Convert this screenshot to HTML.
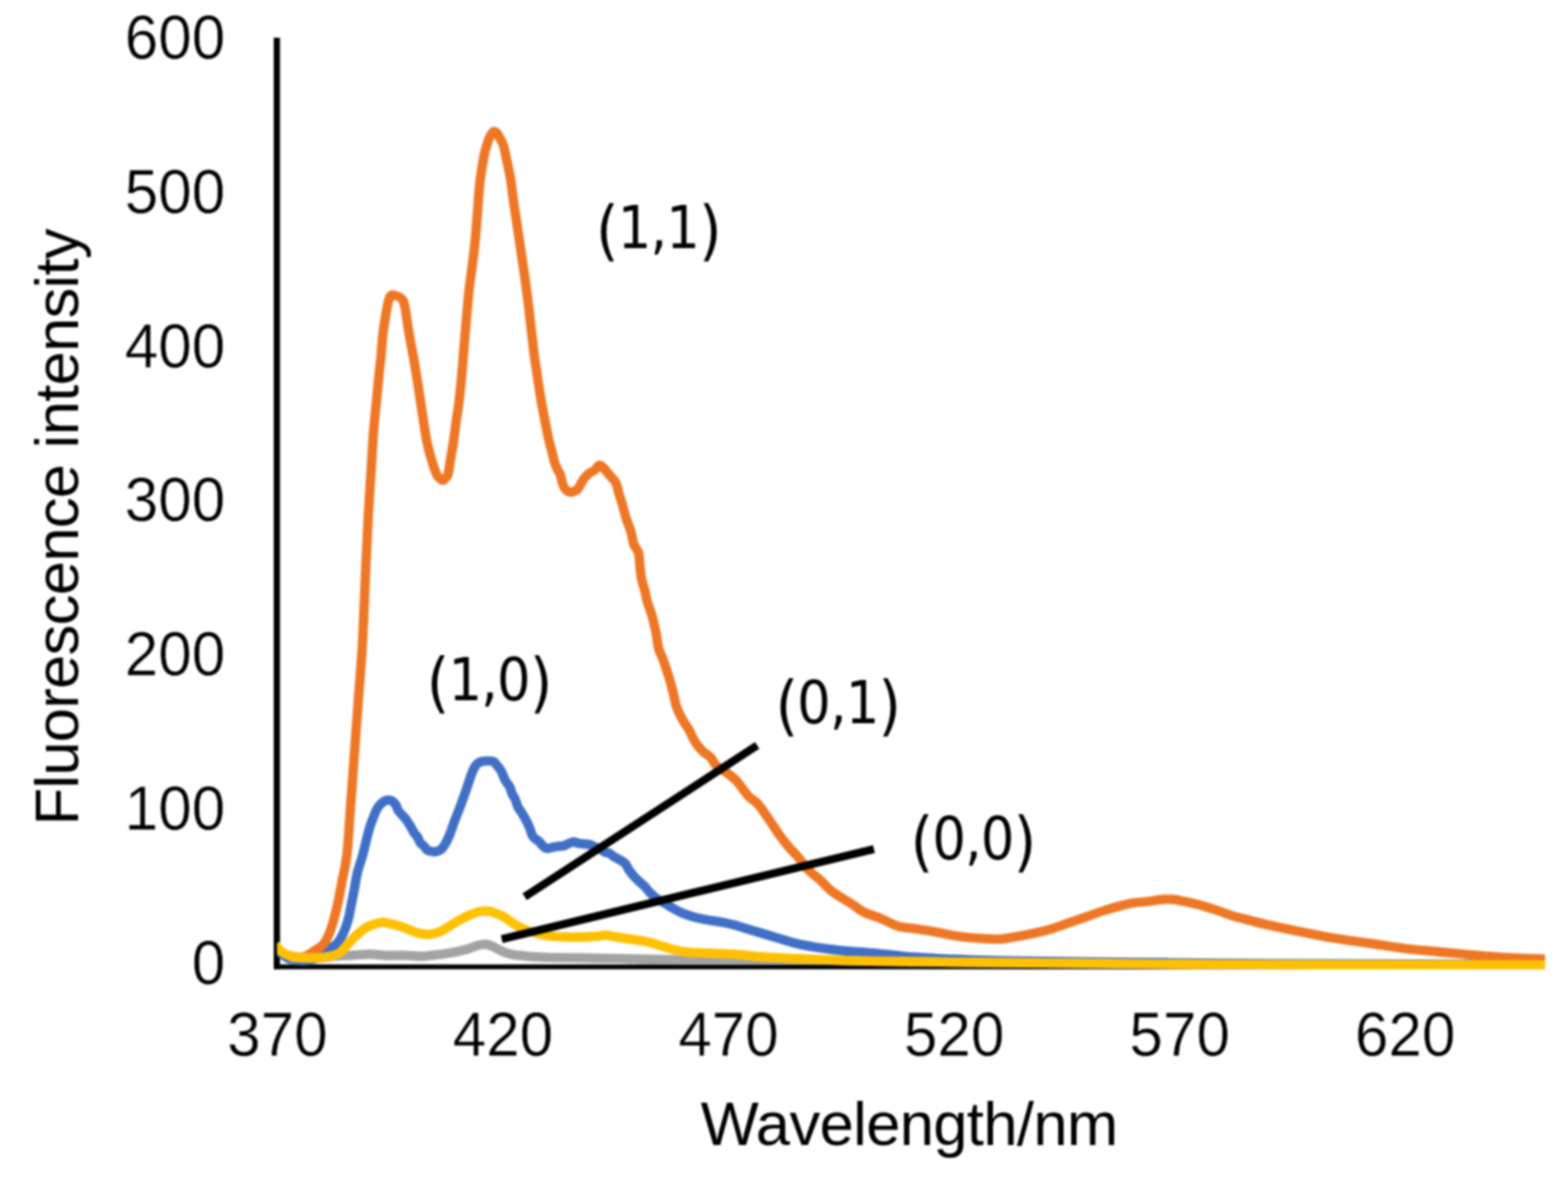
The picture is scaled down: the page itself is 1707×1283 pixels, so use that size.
<!DOCTYPE html>
<html lang="en">
<head>
<meta charset="utf-8">
<title>Fluorescence intensity vs Wavelength</title>
<style>
html,body{margin:0;padding:0;background:#fff;}
body{width:1707px;height:1283px;overflow:hidden;}
svg{display:block;filter:blur(1.15px);}
.ax{font-family:"Liberation Sans",Arial,sans-serif;font-size:65.6px;fill:#000;}
.tk{stroke:#fff;stroke-width:0.5px;stroke-linejoin:round;}
.an{font-family:"DejaVu Sans Condensed","DejaVu Sans","Liberation Sans",sans-serif;fill:#000;}
.c{fill:none;stroke-linejoin:round;stroke-linecap:butt;}
</style>
</head>
<body>
<svg width="1707" height="1283" viewBox="0 0 1707 1283" role="img" aria-label="Fluorescence spectra chart">
<rect width="1707" height="1283" fill="#fff"/>
<g stroke="#000" fill="none" stroke-linecap="butt">
<line x1="301.4" y1="41" x2="301.4" y2="1054.7" stroke-width="6.8"/>
<line x1="298" y1="1052.1" x2="1682" y2="1052.1" stroke-width="5.2"/>
</g>
<clipPath id="plot"><rect x="301.6" y="0" width="1380.6" height="1283"/></clipPath>
<g class="c" stroke-width="10.2" clip-path="url(#plot)">
<path stroke="#4070C6" d="M299.5,1029.0C299.9,1029.6 301.1,1031.3 302.0,1032.5C302.9,1033.7 303.5,1034.8 304.7,1036.0C305.9,1037.2 307.4,1038.8 309.0,1040.0C310.6,1041.2 312.2,1042.4 314.0,1043.2C315.8,1044.0 317.7,1044.6 320.0,1045.0C322.3,1045.4 325.2,1045.4 328.0,1045.4C330.8,1045.4 334.3,1045.4 337.0,1045.0C339.7,1044.6 341.8,1043.8 344.0,1043.0C346.2,1042.2 347.3,1041.8 350.0,1040.0C352.7,1038.2 357.1,1034.2 360.0,1031.9C362.9,1029.6 365.3,1028.7 367.5,1026.2C369.7,1023.7 371.5,1020.0 373.1,1016.9C374.7,1013.8 375.8,1010.6 376.9,1007.5C378.0,1004.4 378.8,1002.0 379.7,998.1C380.6,994.2 381.6,988.7 382.5,984.0C383.4,979.3 384.2,975.7 385.3,970.0C386.4,964.3 387.4,956.7 389.0,950.0C390.6,943.3 392.9,937.8 395.0,930.0C397.1,922.2 399.7,910.1 401.6,903.3C403.5,896.5 405.1,893.2 406.6,889.2C408.1,885.2 409.2,882.2 410.8,879.6C412.4,877.0 414.1,874.9 416.0,873.4C417.9,871.9 420.2,870.9 422.0,870.6C423.8,870.3 425.5,870.8 427.0,871.8C428.5,872.8 430.1,874.6 431.2,876.4C432.3,878.2 432.3,880.3 433.8,882.5C435.3,884.7 438.6,887.5 440.3,889.5C442.0,891.5 442.8,892.9 444.0,894.6C445.2,896.3 446.1,897.8 447.3,899.8C448.5,901.8 449.8,904.8 451.0,906.6C452.2,908.4 453.2,908.9 454.4,910.8C455.6,912.7 456.8,916.2 458.0,917.8C459.2,919.4 460.2,919.3 461.4,920.5C462.6,921.7 463.8,924.0 465.0,925.0C466.2,926.0 467.1,925.9 468.4,926.2C469.6,926.5 471.1,927.0 472.5,927.0C473.9,927.0 475.5,926.6 477.0,926.0C478.5,925.4 479.8,925.1 481.3,923.4C482.8,921.7 484.6,918.7 486.2,915.7C487.8,912.7 489.2,909.0 490.6,905.5C492.0,902.0 493.2,897.8 494.4,894.6C495.6,891.4 496.3,889.8 497.6,886.5C498.9,883.2 500.6,878.9 502.0,875.0C503.4,871.1 504.9,867.0 506.2,863.3C507.5,859.6 508.5,856.5 509.7,853.0C510.9,849.5 512.2,845.3 513.4,842.2C514.6,839.1 515.7,836.4 517.0,834.4C518.3,832.4 519.7,831.0 521.0,830.0C522.3,829.0 523.3,828.8 525.0,828.5C526.7,828.2 529.0,828.0 531.0,828.0C533.0,828.0 535.4,827.9 537.0,828.6C538.6,829.4 539.3,830.7 540.8,832.5C542.3,834.3 544.3,836.6 545.8,839.4C547.3,842.2 548.5,846.4 550.0,849.2C551.5,852.0 553.6,853.7 554.9,856.2C556.1,858.7 556.6,861.9 557.5,864.0C558.4,866.1 559.4,866.6 560.5,869.0C561.6,871.4 562.9,876.2 564.0,878.5C565.1,880.8 565.8,881.2 567.0,883.0C568.2,884.8 569.5,886.8 571.0,889.5C572.5,892.2 574.6,896.1 576.0,899.4C577.4,902.7 578.3,906.9 579.5,909.2C580.7,911.5 581.7,911.8 583.0,913.0C584.3,914.2 586.0,915.0 587.3,916.2C588.6,917.5 589.7,919.3 591.0,920.5C592.3,921.7 593.5,923.0 595.0,923.3C596.5,923.6 598.1,922.9 600.0,922.5C601.9,922.1 604.0,921.5 606.2,921.2C608.4,920.9 611.3,921.0 613.3,920.5C615.3,920.0 616.2,919.2 618.0,918.5C619.8,917.8 622.0,916.4 623.8,916.2C625.6,916.0 627.2,917.1 629.0,917.5C630.8,917.9 632.3,918.0 634.4,918.3C636.5,918.5 639.1,918.4 641.4,919.0C643.7,919.6 646.3,921.0 648.4,921.9C650.5,922.8 652.2,923.6 654.0,924.5C655.8,925.4 657.4,926.8 659.0,927.5C660.6,928.2 661.9,927.8 663.4,928.5C664.9,929.2 666.4,931.0 668.0,932.0C669.6,933.0 671.3,933.9 672.8,934.7C674.3,935.5 675.6,936.1 677.0,937.0C678.4,937.9 680.0,938.9 681.2,940.3C682.4,941.7 683.0,943.9 684.0,945.5C685.0,947.1 685.5,947.9 686.9,949.7C688.3,951.5 690.2,953.9 692.5,956.2C694.8,958.5 698.4,961.2 700.9,963.7C703.4,966.2 705.1,968.9 707.5,971.2C709.9,973.6 712.2,975.8 715.0,977.8C717.8,979.8 721.3,981.5 724.4,983.4C727.5,985.3 730.6,987.3 733.7,989.0C736.8,990.7 739.2,992.1 743.1,993.7C747.0,995.3 752.5,997.1 757.2,998.4C761.9,999.6 766.5,1000.4 771.2,1001.2C775.9,1002.1 780.6,1002.6 785.3,1003.5C790.0,1004.4 795.4,1005.5 799.3,1006.5C803.2,1007.5 804.0,1008.0 808.7,1009.4C813.4,1010.8 821.2,1013.1 827.5,1015.0C833.8,1016.9 840.0,1018.7 846.2,1020.6C852.5,1022.5 858.8,1024.6 865.0,1026.2C871.2,1027.8 877.5,1028.9 883.7,1030.0C890.0,1031.1 896.2,1032.0 902.5,1032.8C908.8,1033.6 913.4,1034.2 921.2,1034.9C929.0,1035.6 940.3,1036.2 949.3,1037.0C958.3,1037.8 967.2,1038.8 975.0,1039.6C982.8,1040.4 983.2,1040.8 996.0,1041.6C1008.8,1042.4 1034.7,1043.6 1052.0,1044.3C1069.3,1045.0 1068.7,1045.1 1100.0,1045.6C1131.3,1046.1 1193.3,1046.8 1240.0,1047.3C1286.7,1047.8 1306.3,1048.2 1380.0,1048.6C1453.7,1049.0 1631.7,1049.6 1682.0,1049.8"/>
<path stroke="#EE7725" d="M314.0,1039.6C315.0,1039.9 317.7,1040.9 320.0,1041.2C322.3,1041.5 325.5,1041.9 328.0,1041.6C330.5,1041.3 332.6,1040.8 335.0,1039.6C337.4,1038.4 340.2,1036.0 342.2,1034.7C344.2,1033.4 345.4,1032.9 347.0,1031.8C348.6,1030.7 350.2,1029.6 351.5,1028.1C352.8,1026.6 353.9,1024.9 355.0,1023.0C356.1,1021.1 357.2,1019.1 358.1,1016.9C359.0,1014.7 359.8,1012.4 360.6,1010.0C361.4,1007.6 361.8,1006.3 362.8,1002.8C363.8,999.2 365.4,993.4 366.5,988.7C367.6,984.0 368.4,979.9 369.4,974.7C370.4,969.6 371.2,965.2 372.6,957.8C374.0,950.3 376.3,941.7 377.7,930.0C379.1,918.3 379.8,902.5 380.9,887.5C382.0,872.5 383.3,855.6 384.4,840.0C385.5,824.4 386.6,808.7 387.7,793.7C388.8,778.7 389.9,765.6 391.0,750.0C392.1,734.4 393.5,719.7 394.6,700.0C395.7,680.3 396.6,654.7 397.6,632.0C398.6,609.3 399.8,583.2 400.8,564.0C401.8,544.8 402.7,532.6 403.7,517.0C404.7,501.4 405.6,484.0 406.6,470.3C407.7,456.6 408.9,446.7 410.0,435.0C411.1,423.3 412.6,407.5 413.4,400.0C414.2,392.5 414.0,396.1 414.6,390.0C415.2,383.9 416.0,371.3 416.9,363.3C417.8,355.3 419.2,347.8 420.1,342.2C421.0,336.6 421.6,333.1 422.3,330.0C423.0,326.9 423.5,325.0 424.3,323.5C425.1,322.0 425.7,321.2 427.0,321.0C428.3,320.8 430.5,321.5 432.0,322.0C433.5,322.5 434.8,323.1 436.0,324.0C437.2,324.9 438.2,325.8 439.0,327.5C439.8,329.2 440.3,331.6 440.8,334.0C441.3,336.4 441.4,337.3 442.2,342.2C443.0,347.1 444.0,355.3 445.4,363.3C446.8,371.3 449.2,383.9 450.3,390.0C451.4,396.1 451.1,394.2 452.0,400.0C452.9,405.8 454.8,417.2 456.0,425.0C457.2,432.8 458.4,441.1 459.3,446.9C460.2,452.7 460.4,454.3 461.3,460.0C462.2,465.7 463.3,474.1 464.8,481.1C466.3,488.1 468.6,496.3 470.4,502.2C472.1,508.1 473.9,513.1 475.3,516.2C476.7,519.3 477.9,519.7 479.0,520.8C480.1,521.9 481.0,522.6 482.0,522.6C483.0,522.6 484.0,521.7 485.0,520.5C486.0,519.3 487.2,518.5 488.0,515.5C488.8,512.5 489.0,508.4 490.0,502.5C491.0,496.6 492.7,487.1 493.8,480.0C494.9,472.9 495.4,467.1 496.4,460.0C497.4,452.9 498.5,447.5 499.7,437.5C500.9,427.5 502.5,409.6 503.4,400.0C504.3,390.4 503.9,393.3 505.0,380.0C506.1,366.7 508.7,335.0 510.2,320.0C511.7,305.0 512.8,300.0 514.0,290.0C515.2,280.0 516.4,271.7 517.5,260.0C518.6,248.3 519.8,230.5 520.6,220.0C521.5,209.5 521.6,205.0 522.6,197.0C523.6,189.0 525.2,178.7 526.4,172.2C527.6,165.7 528.8,161.9 529.9,158.1C531.0,154.3 532.0,151.8 533.0,149.5C534.0,147.2 535.2,145.6 536.0,144.5C536.8,143.4 537.2,143.2 538.0,143.2C538.8,143.2 539.5,143.4 540.5,144.5C541.5,145.6 542.8,147.7 544.0,150.0C545.2,152.3 546.8,154.4 548.0,158.1C549.2,161.8 549.9,166.3 551.2,172.2C552.5,178.1 554.7,188.7 555.6,193.3C556.5,197.9 556.0,195.6 556.6,200.0C557.2,204.4 557.8,210.0 559.2,220.0C560.6,230.0 562.8,243.3 565.2,260.0C567.6,276.7 571.2,300.0 573.8,320.0C576.4,340.0 579.2,366.7 580.8,380.0C582.4,393.3 582.1,390.3 583.6,400.0C585.1,409.7 587.3,425.5 589.5,438.0C591.7,450.5 594.9,466.3 596.7,475.0C598.5,483.7 599.3,485.3 600.5,490.0C601.7,494.7 602.6,499.5 603.7,503.0C604.8,506.5 606.0,508.8 607.0,511.0C608.0,513.2 609.1,514.0 610.0,516.5C610.9,519.0 611.3,523.2 612.3,526.0C613.3,528.8 614.5,531.4 616.0,533.0C617.5,534.6 619.5,535.4 621.0,535.6C622.5,535.9 623.6,535.1 625.0,534.5C626.4,533.9 627.6,534.0 629.2,532.0C630.8,530.0 632.8,525.0 634.8,522.2C636.8,519.4 639.1,516.9 641.2,515.1C643.3,513.3 645.8,513.0 647.5,511.6C649.2,510.2 650.5,507.5 651.7,506.7C652.9,505.9 653.6,506.5 654.5,507.0C655.4,507.5 655.6,507.7 657.3,509.5C658.9,511.3 662.2,515.3 664.4,518.0C666.6,520.7 669.2,522.7 670.7,525.7C672.2,528.7 672.4,532.4 673.5,536.2C674.6,540.0 676.0,543.9 677.4,548.5C678.8,553.1 680.0,559.2 681.6,564.1C683.2,569.0 685.3,573.4 686.7,578.1C688.1,582.8 688.6,588.3 690.0,592.2C691.4,596.1 694.0,597.7 695.1,601.6C696.2,605.5 696.1,610.9 696.6,615.6C697.1,620.3 697.5,625.0 698.4,629.7C699.3,634.4 701.1,639.3 702.2,643.7C703.3,648.1 703.7,651.5 705.0,655.9C706.3,660.3 708.3,664.5 709.8,670.0C711.3,675.5 713.0,682.8 714.2,688.7C715.4,694.6 715.7,700.6 717.0,705.6C718.3,710.6 720.4,713.7 722.2,718.7C724.0,723.7 726.1,730.0 727.8,735.6C729.5,741.2 731.1,747.0 732.5,752.5C733.9,758.0 734.7,763.8 736.2,768.4C737.7,773.0 739.9,777.0 741.5,780.3C743.1,783.6 744.6,785.7 746.0,788.0C747.4,790.3 748.2,790.8 750.0,794.0C751.8,797.2 754.1,803.3 756.6,807.2C759.1,811.1 762.2,814.7 765.0,817.5C767.8,820.3 770.9,821.4 773.4,824.0C775.9,826.6 777.0,830.6 780.0,833.4C783.0,836.2 787.6,838.2 791.2,840.9C794.8,843.6 798.7,846.6 801.5,849.4C804.3,852.2 805.8,854.8 808.1,857.8C810.5,860.8 812.8,864.4 815.6,867.2C818.4,870.0 822.2,871.7 825.0,874.7C827.8,877.7 830.2,881.8 832.5,885.0C834.8,888.2 836.1,890.1 838.7,894.0C841.3,897.9 845.0,903.7 848.1,908.1C851.2,912.5 854.1,916.2 857.5,920.3C860.9,924.4 864.8,928.0 868.7,932.5C872.6,937.0 876.8,943.3 880.9,947.5C885.0,951.7 889.2,954.2 893.1,957.8C897.0,961.4 900.6,965.9 904.4,969.0C908.1,972.1 911.7,974.0 915.6,976.5C919.5,979.0 923.6,981.3 927.8,984.0C931.9,986.7 935.4,990.0 940.5,992.6C945.6,995.2 952.5,996.9 958.7,999.4C964.9,1001.9 971.2,1005.9 977.5,1007.8C983.8,1009.7 990.0,1009.7 996.2,1010.6C1002.5,1011.5 1008.8,1012.3 1015.0,1013.4C1021.2,1014.5 1027.5,1016.1 1033.7,1017.2C1040.0,1018.3 1046.2,1019.3 1052.5,1020.0C1058.8,1020.7 1065.0,1021.1 1071.2,1021.4C1077.4,1021.7 1083.2,1022.3 1089.4,1021.9C1095.6,1021.5 1101.8,1020.1 1108.1,1019.0C1114.3,1017.9 1120.7,1016.7 1126.9,1015.3C1133.2,1013.9 1139.3,1012.5 1145.6,1010.6C1151.8,1008.7 1158.2,1006.2 1164.4,1004.0C1170.7,1001.8 1176.9,999.7 1183.1,997.5C1189.3,995.3 1195.5,993.0 1201.8,991.0C1208.0,989.0 1215.2,986.9 1220.6,985.5C1226.0,984.1 1229.4,983.2 1234.0,982.5C1238.6,981.8 1242.5,981.8 1248.0,981.2C1253.5,980.6 1262.2,979.1 1266.9,978.7C1271.6,978.3 1273.1,978.5 1276.2,978.7C1279.3,979.0 1280.9,979.2 1285.6,980.2C1290.3,981.2 1298.2,982.8 1304.4,984.4C1310.7,986.0 1316.9,988.0 1323.1,990.0C1329.3,992.0 1335.5,994.7 1341.8,996.6C1348.0,998.5 1354.3,999.9 1360.6,1001.5C1366.8,1003.1 1371.5,1004.5 1379.3,1006.3C1387.1,1008.1 1396.5,1010.0 1407.5,1012.2C1418.5,1014.4 1432.5,1017.5 1445.0,1019.7C1457.5,1021.9 1472.3,1023.8 1482.5,1025.3C1492.7,1026.8 1498.1,1027.6 1506.0,1028.8C1513.9,1030.0 1519.8,1031.0 1530.0,1032.2C1540.2,1033.4 1555.0,1034.6 1567.5,1035.8C1580.0,1037.0 1592.9,1038.4 1605.0,1039.4C1617.1,1040.4 1627.2,1041.3 1640.0,1042.0C1652.8,1042.7 1675.0,1043.5 1682.0,1043.8"/>
<path stroke="#A3A3A3" d="M316.0,1042.4C321.1,1042.4 339.4,1042.7 346.9,1042.4C354.4,1042.1 356.8,1041.2 361.0,1040.8C365.2,1040.4 368.1,1040.2 372.0,1040.0C375.9,1039.8 379.2,1039.7 384.4,1039.4C389.6,1039.1 396.8,1038.3 403.0,1038.4C409.2,1038.5 415.6,1039.6 421.8,1039.8C428.0,1040.0 433.8,1039.5 440.0,1039.6C446.2,1039.7 454.6,1040.6 459.3,1040.6C464.0,1040.6 463.5,1040.3 468.1,1039.8C472.7,1039.3 480.6,1038.5 486.9,1037.5C493.1,1036.5 501.1,1034.8 505.6,1033.7C510.1,1032.6 511.6,1031.8 514.0,1031.0C516.4,1030.2 518.0,1029.5 519.7,1029.0C521.4,1028.5 522.6,1028.2 524.0,1028.0C525.4,1027.8 526.6,1027.5 528.1,1027.6C529.6,1027.7 531.3,1028.0 533.0,1028.5C534.7,1029.0 535.9,1029.7 538.4,1030.9C540.9,1032.1 545.0,1034.4 547.8,1035.6C550.6,1036.8 552.7,1037.4 555.0,1038.0C557.3,1038.6 557.5,1038.9 561.8,1039.4C566.1,1039.9 574.4,1040.8 580.6,1041.2C586.9,1041.6 590.2,1041.8 599.3,1042.0C608.4,1042.2 622.8,1042.2 635.0,1042.4C647.2,1042.6 658.5,1042.7 672.5,1043.0C686.5,1043.3 704.7,1043.9 719.3,1044.2C733.9,1044.5 746.5,1044.5 760.0,1044.6C773.5,1044.7 785.0,1044.6 800.0,1044.6C815.0,1044.6 833.3,1044.5 850.0,1044.6C866.7,1044.7 883.5,1044.8 900.0,1045.0C916.5,1045.2 929.3,1045.7 949.3,1046.0C969.3,1046.3 994.9,1046.6 1020.0,1046.9C1045.1,1047.2 1076.7,1047.5 1100.0,1047.7C1123.3,1047.9 1126.7,1047.9 1160.0,1048.2C1193.3,1048.5 1251.7,1049.1 1300.0,1049.4C1348.3,1049.7 1386.3,1049.8 1450.0,1049.9C1513.7,1050.0 1643.3,1050.0 1682.0,1050.0"/>
<path stroke="#FFC002" d="M299.5,1027.5C299.9,1028.1 301.1,1029.9 302.0,1031.0C302.9,1032.1 303.5,1033.0 304.7,1034.0C305.9,1035.0 307.4,1036.3 309.0,1037.3C310.6,1038.3 312.2,1039.1 314.0,1039.8C315.8,1040.5 317.7,1040.9 320.0,1041.3C322.3,1041.7 323.5,1042.0 328.0,1042.2C332.5,1042.4 341.4,1042.5 346.9,1042.2C352.4,1041.9 357.1,1041.2 361.0,1040.3C364.9,1039.3 367.2,1038.8 370.3,1036.5C373.4,1034.2 376.6,1029.5 379.7,1026.2C382.8,1022.9 385.9,1019.7 389.0,1016.9C392.1,1014.1 395.3,1011.3 398.4,1009.4C401.5,1007.5 405.4,1006.5 407.8,1005.6C410.2,1004.8 411.4,1004.6 413.0,1004.3C414.6,1004.0 415.7,1003.7 417.2,1003.7C418.7,1003.7 419.7,1004.0 422.0,1004.5C424.3,1005.0 428.1,1005.7 431.2,1006.6C434.3,1007.5 436.8,1008.4 440.6,1009.8C444.4,1011.2 450.4,1013.9 454.0,1015.0C457.6,1016.1 459.6,1016.2 462.0,1016.5C464.4,1016.8 465.9,1017.1 468.1,1016.9C470.3,1016.7 472.6,1016.0 475.0,1015.2C477.4,1014.4 478.7,1014.1 482.2,1012.2C485.7,1010.3 491.5,1006.4 496.2,1003.7C500.9,1001.0 506.4,998.1 510.3,996.2C514.2,994.3 517.2,993.3 519.7,992.5C522.2,991.7 523.5,991.8 525.0,991.6C526.5,991.4 527.5,991.3 529.0,991.4C530.5,991.5 532.4,991.7 534.0,992.0C535.6,992.3 536.1,992.5 538.4,993.4C540.7,994.3 544.7,995.5 547.8,997.2C550.9,998.9 554.1,1001.7 557.2,1003.7C560.3,1005.7 563.4,1007.8 566.5,1009.4C569.6,1011.0 572.0,1012.1 575.9,1013.4C579.8,1014.6 586.1,1016.0 590.0,1016.9C593.9,1017.8 594.9,1018.2 599.3,1018.7C603.7,1019.2 610.2,1019.5 616.2,1019.7C622.2,1019.9 629.7,1019.8 635.0,1019.7C640.3,1019.6 644.9,1019.2 648.0,1019.0C651.1,1018.8 651.8,1018.7 653.7,1018.5C655.6,1018.3 657.5,1017.6 659.4,1017.6C661.3,1017.6 662.8,1018.1 665.0,1018.5C667.2,1018.9 668.1,1019.2 672.5,1019.9C676.9,1020.6 686.5,1022.1 691.2,1022.8C696.0,1023.5 697.0,1023.2 701.0,1024.0C705.0,1024.8 711.2,1026.7 715.0,1027.8C718.8,1028.9 720.9,1029.6 724.0,1030.5C727.1,1031.4 729.7,1032.5 733.7,1033.4C737.7,1034.4 741.5,1035.6 747.8,1036.2C754.0,1036.8 762.6,1036.8 771.2,1037.2C779.8,1037.6 789.9,1037.7 799.3,1038.4C808.7,1039.1 816.5,1040.4 827.5,1041.2C838.5,1042.0 852.5,1042.5 865.0,1043.1C877.5,1043.6 888.5,1044.0 902.5,1044.5C916.5,1045.0 929.7,1045.5 949.3,1045.9C968.9,1046.3 994.9,1046.5 1020.0,1046.8C1045.1,1047.1 1076.7,1047.4 1100.0,1047.6C1123.3,1047.8 1126.7,1047.8 1160.0,1048.1C1193.3,1048.4 1251.7,1049.0 1300.0,1049.3C1348.3,1049.6 1386.3,1049.7 1450.0,1049.8C1513.7,1049.9 1643.3,1050.0 1682.0,1050.0"/>
</g>
<g stroke="#000" stroke-width="8.7" stroke-linecap="butt">
<line x1="571.2" y1="975.9" x2="824.3" y2="811.2"/>
<line x1="546.2" y1="1022.1" x2="951.4" y2="923.9"/>
</g>
<g class="ax">
<text class="tk" transform="translate(245.3,63.9) scale(1,1.045)" text-anchor="end">600</text>
<text class="tk" transform="translate(245.3,231.7) scale(1,1.045)" text-anchor="end">500</text>
<text class="tk" transform="translate(245.3,399.5) scale(1,1.045)" text-anchor="end">400</text>
<text class="tk" transform="translate(245.3,567.3) scale(1,1.045)" text-anchor="end">300</text>
<text class="tk" transform="translate(245.3,735.1) scale(1,1.045)" text-anchor="end">200</text>
<text class="tk" transform="translate(245.3,902.9) scale(1,1.045)" text-anchor="end">100</text>
<text class="tk" transform="translate(245.3,1070.7) scale(1,1.045)" text-anchor="end">0</text>
<text class="tk" transform="translate(302,1149.1) scale(1,1.045)" text-anchor="middle">370</text>
<text class="tk" transform="translate(547.55,1149.1) scale(1,1.045)" text-anchor="middle">420</text>
<text class="tk" transform="translate(793.1,1149.1) scale(1,1.045)" text-anchor="middle">470</text>
<text class="tk" transform="translate(1038.65,1149.1) scale(1,1.045)" text-anchor="middle">520</text>
<text class="tk" transform="translate(1284.2,1149.1) scale(1,1.045)" text-anchor="middle">570</text>
<text class="tk" transform="translate(1529.75,1149.1) scale(1,1.045)" text-anchor="middle">620</text>
<text transform="translate(989.7,1245.9) scale(1,1)" text-anchor="middle" font-size="67" letter-spacing="-0.71">Wavelength/nm</text>
<text transform="translate(85.4,573.8) rotate(-90) scale(1,1)" text-anchor="middle" font-size="67" letter-spacing="-0.8">Fluorescence intensity</text>
</g>
<g class="an" font-size="64" text-anchor="middle">
<text x="716.7" y="270" letter-spacing="-1"><tspan font-size="70.3" dy="5">(</tspan><tspan dy="-5">1,1</tspan><tspan font-size="70.3" dy="5">)</tspan></text>
<text x="532.45" y="762.2" letter-spacing="-1"><tspan font-size="70.3" dy="5">(</tspan><tspan dy="-5">1,0</tspan><tspan font-size="70.3" dy="5">)</tspan></text>
<text x="912.1" y="787.3" letter-spacing="-1"><tspan font-size="70.3" dy="5">(</tspan><tspan dy="-5">0,1</tspan><tspan font-size="70.3" dy="5">)</tspan></text>
<text x="1059.15" y="935" letter-spacing="-1"><tspan font-size="70.3" dy="5">(</tspan><tspan dy="-5">0,0</tspan><tspan font-size="70.3" dy="5">)</tspan></text>
</g>
</svg>
</body>
</html>
